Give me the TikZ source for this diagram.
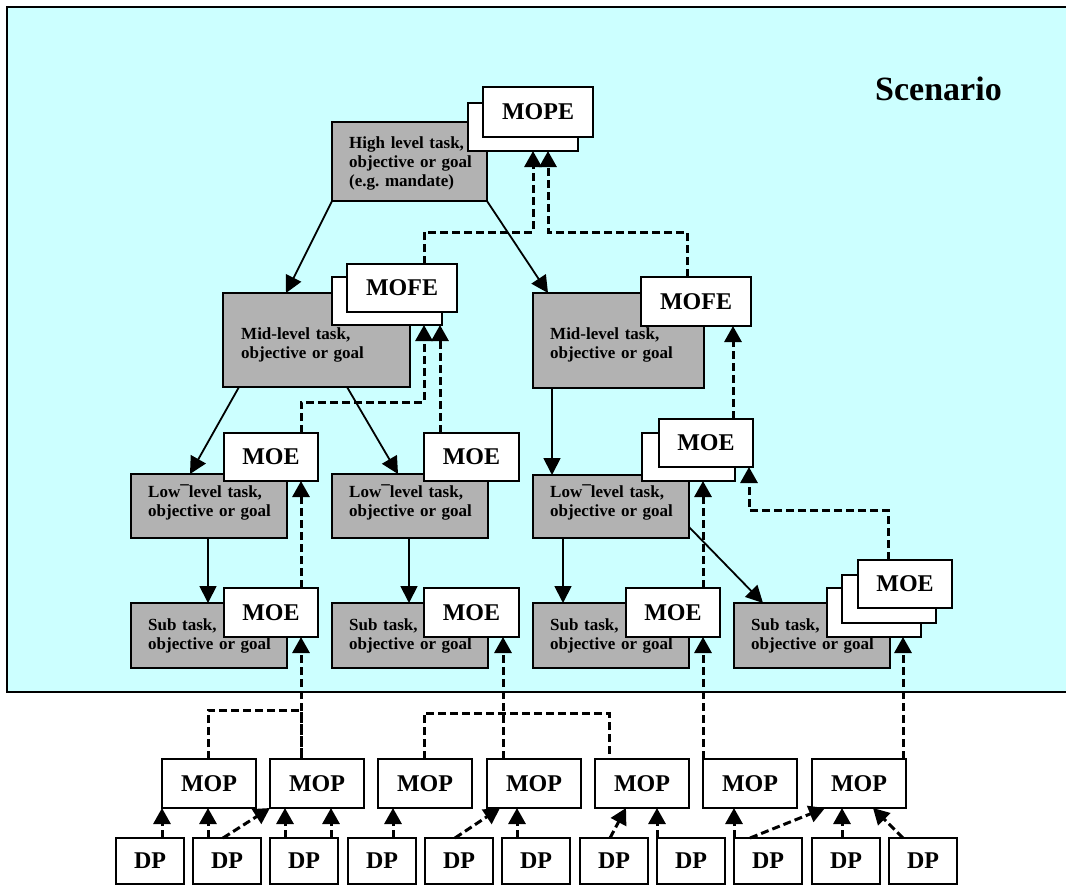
\documentclass[tikz,border=0pt]{standalone}
\usepackage{fontspec}
\setmainfont{Liberation Serif}
\usetikzlibrary{arrows.meta}
\definecolor{scenbg}{RGB}{204,255,255}
\definecolor{taskgray}{RGB}{178,178,178}
\begin{document}
\begin{tikzpicture}[x=1pt,y=-1pt,
  box/.style={draw, line width=1.8pt, inner sep=0pt, outer sep=0pt, anchor=north west},
  task/.style={box, fill=taskgray},
  tasktext/.style={anchor=base west, align=left, text width=150pt, inner sep=0pt,
    font=\fontsize{17}{19}\selectfont\bfseries\frenchspacing},
  meas/.style={box, fill=white, font=\fontsize{24}{28}\selectfont\bfseries,
    minimum width=94pt, minimum height=48pt},
  wide/.style={meas, minimum width=110pt},
  mop/.style={box, fill=white, font=\fontsize{24}{28}\selectfont\bfseries,
    minimum width=94pt, minimum height=49pt},
  dp/.style={box, fill=white, font=\fontsize{24}{28}\selectfont\bfseries,
    minimum width=68pt, minimum height=46pt},
  flow/.style={line width=1.8pt, -{Triangle[width=17pt,length=17pt]}},
  dline/.style={line width=3pt, dash pattern=on 8pt off 4pt},
  dflow/.style={dline, -{Triangle[width=17pt,length=16pt]}}
]
\useasboundingbox (0,0) rectangle (1066,887);

% scenario area (open to the right)
\fill[scenbg] (7,7) rectangle (1066,692);
\draw[line width=2pt] (1066,7) -- (7,7) -- (7,692) -- (1066,692);
\node[anchor=base west, inner sep=0pt, font=\fontsize{34}{40}\selectfont\bfseries]
  (scenario) at (875,100) {Scenario};

% high level
\node[task, minimum width=155pt, minimum height=79pt] (hi) at (332,122) {};
\node[tasktext] (hiT) at (349,148) {High level task,\\objective or goal\\(e.g. mandate)};
\node[wide, minimum height=48pt] (mopeB) at (468,103) {};
\node[wide, minimum height=50pt] (mopeA) at (483,87) {MOPE};

% mid level
\node[task, minimum width=187pt, minimum height=94pt] (ml) at (223,293) {};
\node[tasktext] (mlT) at (241,339) {Mid-level task,\\objective or goal};
\node[wide] (mofeLb) at (332,277) {};
\node[wide] (mofeLa) at (347,264) {MOFE};

\node[task, minimum width=171pt, minimum height=95pt] (mr) at (533,293) {};
\node[tasktext] (mrT) at (550,339) {Mid-level task,\\objective or goal};
\node[wide, minimum height=49pt] (mofeR) at (641,277) {MOFE};

% low level
\node[task, minimum width=156pt, minimum height=64pt] (ll) at (131,474) {};
\node[tasktext] (llT) at (148,497) {Low¯level task,\\objective or goal};
\node[meas] (llm) at (224,433) {MOE};

\node[task, minimum width=156pt, minimum height=64pt] (lm) at (332,474) {};
\node[tasktext] (lmT) at (349,497) {Low¯level task,\\objective or goal};
\node[meas, minimum width=95pt] (lmm) at (424,433) {MOE};

\node[task, minimum width=156pt, minimum height=63pt] (lr) at (533,475) {};
\node[tasktext] (lrT) at (550,497) {Low¯level task,\\objective or goal};
\node[meas, minimum width=93pt] (lrmB) at (642,433) {};
\node[meas] (lrmA) at (659,419) {MOE};

% sub tasks
\node[task, minimum width=156pt, minimum height=65pt] (sl) at (131,603) {};
\node[tasktext] (slT) at (148,630) {Sub task,\\objective or goal};
\node[meas, minimum height=49pt] (slm) at (224,588) {MOE};

\node[task, minimum width=156pt, minimum height=65pt] (sm) at (332,603) {};
\node[tasktext] (smT) at (349,630) {Sub task,\\objective or goal};
\node[meas, minimum width=95pt, minimum height=49pt] (smm) at (424,588) {MOE};

\node[task, minimum width=156pt, minimum height=65pt] (s3) at (533,603) {};
\node[tasktext] (s3T) at (550,630) {Sub task,\\objective or goal};
\node[meas, minimum height=49pt] (s3m) at (626,588) {MOE};

\node[task, minimum width=156pt, minimum height=65pt] (s4) at (734,603) {};
\node[tasktext] (s4T) at (751,630) {Sub task,\\objective or goal};
\node[meas, minimum height=49pt] (s4mC) at (827,588) {};
\node[meas] (s4mB) at (842,575) {};
\node[meas] (s4mA) at (858,560) {MOE};

% measures of performance
\foreach \i/\x in {1/162,2/270,3/378,4/487,5/595,6/703,7/812}
  \node[mop] (mop\i) at (\x,759) {MOP};

% data points
\foreach \i/\x in {1/116,2/193,3/270,4/348,5/425,6/502,7/580,8/657,9/734,10/812,11/889}
  \node[dp] (dp\i) at (\x,838) {DP};

% task decomposition
\draw[flow] (hi.south west) -- ([xshift=63pt]ml.north west);
\draw[flow] (hi.south east) -- ([xshift=15pt]mr.north west);
\draw[flow] ([xshift=16pt]ml.south west) -- ([xshift=59pt]ll.north west);
\draw[flow] ([xshift=124pt]ml.south west) -- ([xshift=66pt]lm.north west);
\draw[flow] ([xshift=19pt]mr.south west) -- ([xshift=19pt]lr.north west);
\draw[flow] ([xshift=77pt]ll.south west) -- ([xshift=77pt]sl.north west);
\draw[flow] ([xshift=77pt]lm.south west) -- ([xshift=77pt]sm.north west);
\draw[flow] ([xshift=30pt]lr.south west) -- ([xshift=30pt]s3.north west);
\draw[flow] ([yshift=11pt]lr.south east) -- ([xshift=29pt]s4.north west);

% roll-up of measures
\draw[dflow] ([xshift=77pt]mofeLa.north west) -- ++(0,-32) -| ([xshift=65pt]mopeB.south west);
\draw[dflow] ([xshift=46pt]mofeR.north west) -- ++(0,-45) -| ([xshift=80pt]mopeB.south west);
\draw[dflow] ([xshift=77pt]llm.north west) -- ++(0,-31) -| ([xshift=92pt]mofeLb.south west);
\draw[dflow] ([xshift=16pt]lmm.north west) -- ([xshift=108pt]mofeLb.south west);
\draw[dflow] ([xshift=74pt]lrmA.north west) -- ([xshift=92pt]mofeR.south west);
\draw[dflow] ([xshift=77pt]slm.north west) -- ([xshift=77pt]llm.south west);
\draw[dflow] ([xshift=77pt]s3m.north west) -- ([xshift=61pt]lrmB.south west);
\draw[dflow] ([xshift=30pt]s4mA.north west) -- ++(0,-50) -| ([xshift=90pt]lrmA.south west);

% MOP to MOE
\draw[dline] ([xshift=46pt]mop1.north west) -- ++(0,-49) -| ([xshift=31pt]mop2.north west);
\draw[dflow] ([xshift=31pt]mop2.north west) -- ([xshift=77pt]slm.south west);
\draw[dline] ([xshift=46pt]mop3.north west) -- ++(0,-46) -| ([xshift=14pt]mop5.north west);
\draw[dflow] ([xshift=16pt]mop4.north west) -- ([xshift=79pt]smm.south west);
\draw[dflow] (mop6.north west) -- ([xshift=77pt]s3m.south west);
\draw[dflow] ([xshift=91pt]mop7.north west) -- ([xshift=76pt]s4mC.south west);

% DP to MOP
\draw[dflow] ([xshift=46pt]dp1.north west) -- (mop1.south west);
\draw[dflow] ([xshift=15pt]dp2.north west) -- ([xshift=46pt]mop1.south west);
\draw[dflow] ([xshift=30pt]dp2.north west) -- (mop2.south west);
\draw[dflow] ([xshift=15pt]dp3.north west) -- ([xshift=15pt]mop2.south west);
\draw[dflow] ([xshift=61pt]dp3.north west) -- ([xshift=61pt]mop2.south west);
\draw[dflow] ([xshift=45pt]dp4.north west) -- ([xshift=15pt]mop3.south west);
\draw[dflow] ([xshift=30pt]dp5.north west) -- ([xshift=13pt]mop4.south west);
\draw[dflow] ([xshift=15pt]dp6.north west) -- ([xshift=30pt]mop4.south west);
\draw[dflow] ([xshift=30pt]dp7.north west) -- ([xshift=31pt]mop5.south west);
\draw[dflow] (dp8.north west) -- ([xshift=62pt]mop5.south west);
\draw[dflow] (dp9.north west) -- ([xshift=31pt]mop6.south west);
\draw[dflow] ([xshift=16pt]dp9.north west) -- ([xshift=13pt]mop7.south west);
\draw[dflow] ([xshift=30pt]dp10.north west) -- ([xshift=30pt]mop7.south west);
\draw[dflow] ([xshift=14pt]dp11.north west) -- ([xshift=61pt]mop7.south west);
\end{tikzpicture}
\end{document}
